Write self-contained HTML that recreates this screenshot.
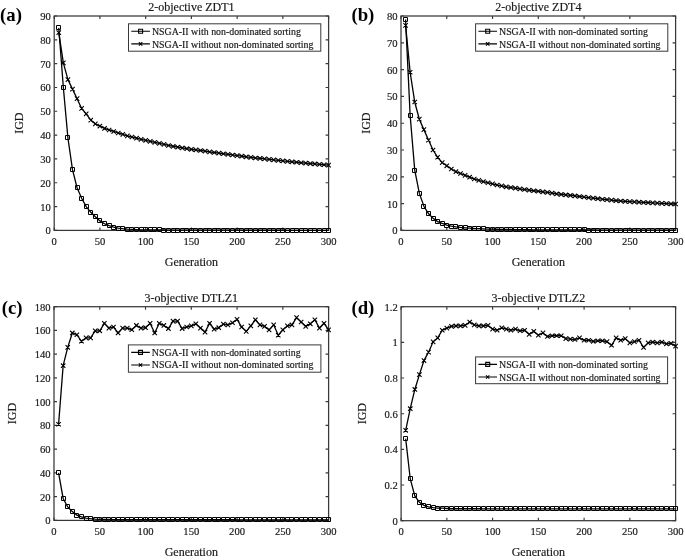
<!DOCTYPE html>
<html><head><meta charset="utf-8"><style>
html,body{margin:0;padding:0;background:#fff;}
svg{display:block;filter:grayscale(1);}
text{font-family:"Liberation Serif",serif;fill:#1a1a1a;stroke:#1a1a1a;stroke-width:0.18px;}
.tk{font-size:10.6px;}
.al{font-size:12px;}
.lg{font-size:9.9px;}
.pl{font-size:18.8px;font-weight:bold;fill:#000;stroke:none;}
</style></head><body>
<svg width="685" height="560" viewBox="0 0 685 560">
<rect width="685" height="560" fill="#fff"/>
<g><rect x="54.2" y="16" width="274.4" height="214.4" fill="none" stroke="#383838" stroke-width="1.25"/><path d="M54.2 230.4v-3.0M54.2 16v3.0M99.93 230.4v-3.0M99.93 16v3.0M145.67 230.4v-3.0M145.67 16v3.0M191.4 230.4v-3.0M191.4 16v3.0M237.13 230.4v-3.0M237.13 16v3.0M282.87 230.4v-3.0M282.87 16v3.0M328.6 230.4v-3.0M328.6 16v3.0M54.2 230.4h3.0M328.6 230.4h-3.0M54.2 206.58h3.0M328.6 206.58h-3.0M54.2 182.76h3.0M328.6 182.76h-3.0M54.2 158.93h3.0M328.6 158.93h-3.0M54.2 135.11h3.0M328.6 135.11h-3.0M54.2 111.29h3.0M328.6 111.29h-3.0M54.2 87.47h3.0M328.6 87.47h-3.0M54.2 63.64h3.0M328.6 63.64h-3.0M54.2 39.82h3.0M328.6 39.82h-3.0M54.2 16h3.0M328.6 16h-3.0" stroke="#383838" stroke-width="1.15" fill="none"/><text x="54.2" y="244.9" class="tk" text-anchor="middle">0</text><text x="99.93" y="244.9" class="tk" text-anchor="middle">50</text><text x="145.67" y="244.9" class="tk" text-anchor="middle">100</text><text x="191.4" y="244.9" class="tk" text-anchor="middle">150</text><text x="237.13" y="244.9" class="tk" text-anchor="middle">200</text><text x="282.87" y="244.9" class="tk" text-anchor="middle">250</text><text x="328.6" y="244.9" class="tk" text-anchor="middle">300</text><text x="50.8" y="234.4" class="tk" text-anchor="end">0</text><text x="50.8" y="210.58" class="tk" text-anchor="end">10</text><text x="50.8" y="186.76" class="tk" text-anchor="end">20</text><text x="50.8" y="162.93" class="tk" text-anchor="end">30</text><text x="50.8" y="139.11" class="tk" text-anchor="end">40</text><text x="50.8" y="115.29" class="tk" text-anchor="end">50</text><text x="50.8" y="91.47" class="tk" text-anchor="end">60</text><text x="50.8" y="67.64" class="tk" text-anchor="end">70</text><text x="50.8" y="43.82" class="tk" text-anchor="end">80</text><text x="50.8" y="20" class="tk" text-anchor="end">90</text><text x="191.4" y="266" class="al" text-anchor="middle">Generation</text><text transform="translate(22.7,123.2) rotate(-90)" class="al" text-anchor="middle">IGD</text><text x="191.4" y="11.3" class="al" text-anchor="middle">2-objective ZDT1</text><text x="0.1" y="20.8" class="pl">(a)</text><path d="M58.77 32.68L63.35 62.93L67.92 79.61L72.49 89.13L77.07 98.66L81.64 108.43L86.21 113.91L90.79 120.1L95.36 123.91L99.93 126.06L104.51 128.44L109.08 129.97L113.65 131.48L118.23 132.97L122.8 134.42L127.37 135.83L131.95 137.02L136.52 138.21L141.09 139.4L145.67 140.38L150.24 141.36L154.81 142.34L159.39 143.36L163.96 144.42L168.53 145.47L173.11 146.46L177.68 147.2L182.25 147.95L186.83 148.69L191.4 149.29L195.97 149.88L200.55 150.49L205.12 151.16L209.69 151.83L214.27 152.5L218.84 153.12L223.41 153.74L227.99 154.36L232.56 154.98L237.13 155.6L241.71 156.19L246.28 156.79L250.85 157.38L255.43 157.98L260 158.46L264.57 158.93L269.15 159.41L273.72 159.89L278.29 160.36L282.87 160.84L287.44 161.32L292.01 161.79L296.59 162.27L301.16 162.74L305.73 163.14L310.31 163.54L314.88 163.94L319.45 164.33L324.03 164.73L328.6 165.13" stroke="#000" stroke-width="1.3" fill="none"/><path d="M58.77 27.91L63.35 87.47L67.92 137.97L72.49 169.65L77.07 187.76L81.64 198.24L86.21 206.58L90.79 212.3L95.36 216.82L99.93 220.87L104.51 223.73L109.08 225.64L113.65 227.06L118.23 228.02L122.8 228.61L127.37 229.09L131.95 229.4L136.52 229.64L141.09 229.8L145.67 229.92L150.24 229.95L154.81 229.97L159.39 230L163.96 230.02L168.53 230.04L173.11 230.07L177.68 230.09L182.25 230.11L186.83 230.14L191.4 230.16L195.97 230.17L200.55 230.17L205.12 230.18L209.69 230.18L214.27 230.19L218.84 230.2L223.41 230.2L227.99 230.21L232.56 230.21L237.13 230.22L241.71 230.22L246.28 230.23L250.85 230.23L255.43 230.24L260 230.25L264.57 230.25L269.15 230.26L273.72 230.26L278.29 230.27L282.87 230.27L287.44 230.28L292.01 230.28L296.59 230.29L301.16 230.3L305.73 230.3L310.31 230.31L314.88 230.31L319.45 230.32L324.03 230.32L328.6 230.33" stroke="#000" stroke-width="1.3" fill="none"/><path d="M56.5 25.5h4v4h-4zM61.5 85.5h4v4h-4zM65.5 135.5h4v4h-4zM70.5 167.5h4v4h-4zM75.5 185.5h4v4h-4zM79.5 196.5h4v4h-4zM84.5 204.5h4v4h-4zM88.5 210.5h4v4h-4zM93.5 214.5h4v4h-4zM97.5 218.5h4v4h-4zM102.5 221.5h4v4h-4zM107.5 223.5h4v4h-4zM111.5 225.5h4v4h-4zM116.5 226.5h4v4h-4zM120.5 226.5h4v4h-4zM125.5 227.5h4v4h-4zM129.5 227.5h4v4h-4zM134.5 227.5h4v4h-4zM139.5 227.5h4v4h-4zM143.5 227.5h4v4h-4zM148.5 227.5h4v4h-4zM152.5 227.5h4v4h-4zM157.5 227.5h4v4h-4zM161.5 228.5h4v4h-4zM166.5 228.5h4v4h-4zM171.5 228.5h4v4h-4zM175.5 228.5h4v4h-4zM180.5 228.5h4v4h-4zM184.5 228.5h4v4h-4zM189.5 228.5h4v4h-4zM193.5 228.5h4v4h-4zM198.5 228.5h4v4h-4zM203.5 228.5h4v4h-4zM207.5 228.5h4v4h-4zM212.5 228.5h4v4h-4zM216.5 228.5h4v4h-4zM221.5 228.5h4v4h-4zM225.5 228.5h4v4h-4zM230.5 228.5h4v4h-4zM235.5 228.5h4v4h-4zM239.5 228.5h4v4h-4zM244.5 228.5h4v4h-4zM248.5 228.5h4v4h-4zM253.5 228.5h4v4h-4zM258.5 228.5h4v4h-4zM262.5 228.5h4v4h-4zM267.5 228.5h4v4h-4zM271.5 228.5h4v4h-4zM276.5 228.5h4v4h-4zM280.5 228.5h4v4h-4zM285.5 228.5h4v4h-4zM290.5 228.5h4v4h-4zM294.5 228.5h4v4h-4zM299.5 228.5h4v4h-4zM303.5 228.5h4v4h-4zM308.5 228.5h4v4h-4zM312.5 228.5h4v4h-4zM317.5 228.5h4v4h-4zM322.5 228.5h4v4h-4zM326.5 228.5h4v4h-4z" stroke="#000" stroke-width="1" fill="none"/><path d="M56.57 30.48l4.4 4.4M56.57 34.88l4.4 -4.4M61.15 60.73l4.4 4.4M61.15 65.13l4.4 -4.4M65.72 77.41l4.4 4.4M65.72 81.81l4.4 -4.4M70.29 86.93l4.4 4.4M70.29 91.33l4.4 -4.4M74.87 96.46l4.4 4.4M74.87 100.86l4.4 -4.4M79.44 106.23l4.4 4.4M79.44 110.63l4.4 -4.4M84.01 111.71l4.4 4.4M84.01 116.11l4.4 -4.4M88.59 117.9l4.4 4.4M88.59 122.3l4.4 -4.4M93.16 121.71l4.4 4.4M93.16 126.11l4.4 -4.4M97.73 123.86l4.4 4.4M97.73 128.26l4.4 -4.4M102.31 126.24l4.4 4.4M102.31 130.64l4.4 -4.4M106.88 127.77l4.4 4.4M106.88 132.17l4.4 -4.4M111.45 129.28l4.4 4.4M111.45 133.68l4.4 -4.4M116.03 130.77l4.4 4.4M116.03 135.17l4.4 -4.4M120.6 132.22l4.4 4.4M120.6 136.62l4.4 -4.4M125.17 133.63l4.4 4.4M125.17 138.03l4.4 -4.4M129.75 134.82l4.4 4.4M129.75 139.22l4.4 -4.4M134.32 136.01l4.4 4.4M134.32 140.41l4.4 -4.4M138.89 137.2l4.4 4.4M138.89 141.6l4.4 -4.4M143.47 138.18l4.4 4.4M143.47 142.58l4.4 -4.4M148.04 139.16l4.4 4.4M148.04 143.56l4.4 -4.4M152.61 140.14l4.4 4.4M152.61 144.54l4.4 -4.4M157.19 141.16l4.4 4.4M157.19 145.56l4.4 -4.4M161.76 142.22l4.4 4.4M161.76 146.62l4.4 -4.4M166.33 143.27l4.4 4.4M166.33 147.67l4.4 -4.4M170.91 144.26l4.4 4.4M170.91 148.66l4.4 -4.4M175.48 145l4.4 4.4M175.48 149.4l4.4 -4.4M180.05 145.75l4.4 4.4M180.05 150.15l4.4 -4.4M184.63 146.49l4.4 4.4M184.63 150.89l4.4 -4.4M189.2 147.09l4.4 4.4M189.2 151.49l4.4 -4.4M193.77 147.68l4.4 4.4M193.77 152.08l4.4 -4.4M198.35 148.29l4.4 4.4M198.35 152.69l4.4 -4.4M202.92 148.96l4.4 4.4M202.92 153.36l4.4 -4.4M207.49 149.63l4.4 4.4M207.49 154.03l4.4 -4.4M212.07 150.3l4.4 4.4M212.07 154.7l4.4 -4.4M216.64 150.92l4.4 4.4M216.64 155.32l4.4 -4.4M221.21 151.54l4.4 4.4M221.21 155.94l4.4 -4.4M225.79 152.16l4.4 4.4M225.79 156.56l4.4 -4.4M230.36 152.78l4.4 4.4M230.36 157.18l4.4 -4.4M234.93 153.4l4.4 4.4M234.93 157.8l4.4 -4.4M239.51 153.99l4.4 4.4M239.51 158.39l4.4 -4.4M244.08 154.59l4.4 4.4M244.08 158.99l4.4 -4.4M248.65 155.18l4.4 4.4M248.65 159.58l4.4 -4.4M253.23 155.78l4.4 4.4M253.23 160.18l4.4 -4.4M257.8 156.26l4.4 4.4M257.8 160.66l4.4 -4.4M262.37 156.73l4.4 4.4M262.37 161.13l4.4 -4.4M266.95 157.21l4.4 4.4M266.95 161.61l4.4 -4.4M271.52 157.69l4.4 4.4M271.52 162.09l4.4 -4.4M276.09 158.16l4.4 4.4M276.09 162.56l4.4 -4.4M280.67 158.64l4.4 4.4M280.67 163.04l4.4 -4.4M285.24 159.12l4.4 4.4M285.24 163.52l4.4 -4.4M289.81 159.59l4.4 4.4M289.81 163.99l4.4 -4.4M294.39 160.07l4.4 4.4M294.39 164.47l4.4 -4.4M298.96 160.54l4.4 4.4M298.96 164.94l4.4 -4.4M303.53 160.94l4.4 4.4M303.53 165.34l4.4 -4.4M308.11 161.34l4.4 4.4M308.11 165.74l4.4 -4.4M312.68 161.74l4.4 4.4M312.68 166.14l4.4 -4.4M317.25 162.13l4.4 4.4M317.25 166.53l4.4 -4.4M321.83 162.53l4.4 4.4M321.83 166.93l4.4 -4.4M326.4 162.93l4.4 4.4M326.4 167.33l4.4 -4.4" stroke="#000" stroke-width="1.1" fill="none"/><rect x="128.5" y="23.8" width="192.3" height="27.4" fill="#fff" stroke="#383838" stroke-width="1"/><path d="M131.3 31.3H149.9M131.3 43.9H149.9" stroke="#000" stroke-width="1.1"/><path d="M138.6 29.3h4v4h-4z" stroke="#000" stroke-width="1.1" fill="none"/><path d="M138.9 42.2l3.4 3.4M138.9 45.6l3.4 -3.4" stroke="#000" stroke-width="1.1" fill="none"/><text x="151.9" y="35" class="lg">NSGA-II with non-dominated sorting</text><text x="151.9" y="48" class="lg">NSGA-II without non-dominated sorting</text></g><g><rect x="401" y="16" width="274.6" height="214.4" fill="none" stroke="#383838" stroke-width="1.25"/><path d="M401 230.4v-3.0M401 16v3.0M446.77 230.4v-3.0M446.77 16v3.0M492.53 230.4v-3.0M492.53 16v3.0M538.3 230.4v-3.0M538.3 16v3.0M584.07 230.4v-3.0M584.07 16v3.0M629.83 230.4v-3.0M629.83 16v3.0M675.6 230.4v-3.0M675.6 16v3.0M401 230.4h3.0M675.6 230.4h-3.0M401 203.6h3.0M675.6 203.6h-3.0M401 176.8h3.0M675.6 176.8h-3.0M401 150h3.0M675.6 150h-3.0M401 123.2h3.0M675.6 123.2h-3.0M401 96.4h3.0M675.6 96.4h-3.0M401 69.6h3.0M675.6 69.6h-3.0M401 42.8h3.0M675.6 42.8h-3.0M401 16h3.0M675.6 16h-3.0" stroke="#383838" stroke-width="1.15" fill="none"/><text x="401" y="244.9" class="tk" text-anchor="middle">0</text><text x="446.77" y="244.9" class="tk" text-anchor="middle">50</text><text x="492.53" y="244.9" class="tk" text-anchor="middle">100</text><text x="538.3" y="244.9" class="tk" text-anchor="middle">150</text><text x="584.07" y="244.9" class="tk" text-anchor="middle">200</text><text x="629.83" y="244.9" class="tk" text-anchor="middle">250</text><text x="675.6" y="244.9" class="tk" text-anchor="middle">300</text><text x="397.6" y="234.4" class="tk" text-anchor="end">0</text><text x="397.6" y="207.6" class="tk" text-anchor="end">10</text><text x="397.6" y="180.8" class="tk" text-anchor="end">20</text><text x="397.6" y="154" class="tk" text-anchor="end">30</text><text x="397.6" y="127.2" class="tk" text-anchor="end">40</text><text x="397.6" y="100.4" class="tk" text-anchor="end">50</text><text x="397.6" y="73.6" class="tk" text-anchor="end">60</text><text x="397.6" y="46.8" class="tk" text-anchor="end">70</text><text x="397.6" y="20" class="tk" text-anchor="end">80</text><text x="538.3" y="266" class="al" text-anchor="middle">Generation</text><text transform="translate(369.5,123.2) rotate(-90)" class="al" text-anchor="middle">IGD</text><text x="538.3" y="11.3" class="al" text-anchor="middle">2-objective ZDT4</text><text x="351.4" y="20.8" class="pl">(b)</text><path d="M405.58 25.38L410.15 72.28L414.73 102.03L419.31 119.18L423.88 129.63L428.46 140.08L433.04 150L437.61 157.24L442.19 162.6L446.77 165.81L451.34 169.03L455.92 171.71L460.5 173.49L465.07 175.35L469.65 177.19L474.23 179.02L478.8 180.43L483.38 181.57L487.96 182.73L492.53 183.9L497.11 185.02L501.69 185.91L506.26 186.81L510.84 187.52L515.42 188.19L519.99 188.86L524.57 189.53L529.15 190.2L533.72 190.74L538.3 191.27L542.88 191.81L547.45 192.34L552.03 193.15L556.61 193.95L561.18 194.45L565.76 194.96L570.34 195.46L574.91 195.96L579.49 196.48L584.07 197.03L588.64 197.59L593.22 198.15L597.8 198.71L602.37 199.22L606.95 199.67L611.53 200.12L616.1 200.56L620.68 201.01L625.26 201.36L629.83 201.63L634.41 201.91L638.99 202.19L643.56 202.47L648.14 202.7L652.72 202.92L657.29 203.13L661.87 203.35L666.45 203.57L671.02 203.79L675.6 204" stroke="#000" stroke-width="1.3" fill="none"/><path d="M405.58 19.48L410.15 115.43L414.73 170.1L419.31 193.15L423.88 206.28L428.46 213.52L433.04 218.34L437.61 221.56L442.19 223.43L446.77 225.04L451.34 226.11L455.92 226.92L460.5 227.45L465.07 227.85L469.65 228.2L474.23 228.52L478.8 228.72L483.38 228.93L487.96 229.06L492.53 229.19L497.11 229.26L501.69 229.33L506.26 229.4L510.84 229.46L515.42 229.53L519.99 229.6L524.57 229.66L529.15 229.73L533.72 229.8L538.3 229.86L542.88 229.88L547.45 229.89L552.03 229.9L556.61 229.92L561.18 229.93L565.76 229.94L570.34 229.96L574.91 229.97L579.49 229.98L584.07 230L588.64 230.01L593.22 230.02L597.8 230.04L602.37 230.05L606.95 230.06L611.53 230.08L616.1 230.09L620.68 230.11L625.26 230.12L629.83 230.13L634.41 230.15L638.99 230.16L643.56 230.17L648.14 230.19L652.72 230.2L657.29 230.21L661.87 230.23L666.45 230.24L671.02 230.25L675.6 230.27" stroke="#000" stroke-width="1.3" fill="none"/><path d="M403.5 17.5h4v4h-4zM408.5 113.5h4v4h-4zM412.5 168.5h4v4h-4zM417.5 191.5h4v4h-4zM421.5 204.5h4v4h-4zM426.5 211.5h4v4h-4zM431.5 216.5h4v4h-4zM435.5 219.5h4v4h-4zM440.5 221.5h4v4h-4zM444.5 223.5h4v4h-4zM449.5 224.5h4v4h-4zM453.5 224.5h4v4h-4zM458.5 225.5h4v4h-4zM463.5 225.5h4v4h-4zM467.5 226.5h4v4h-4zM472.5 226.5h4v4h-4zM476.5 226.5h4v4h-4zM481.5 226.5h4v4h-4zM485.5 227.5h4v4h-4zM490.5 227.5h4v4h-4zM495.5 227.5h4v4h-4zM499.5 227.5h4v4h-4zM504.5 227.5h4v4h-4zM508.5 227.5h4v4h-4zM513.5 227.5h4v4h-4zM517.5 227.5h4v4h-4zM522.5 227.5h4v4h-4zM527.5 227.5h4v4h-4zM531.5 227.5h4v4h-4zM536.5 227.5h4v4h-4zM540.5 227.5h4v4h-4zM545.5 227.5h4v4h-4zM550.5 227.5h4v4h-4zM554.5 227.5h4v4h-4zM559.5 227.5h4v4h-4zM563.5 227.5h4v4h-4zM568.5 227.5h4v4h-4zM572.5 227.5h4v4h-4zM577.5 227.5h4v4h-4zM582.5 227.5h4v4h-4zM586.5 228.5h4v4h-4zM591.5 228.5h4v4h-4zM595.5 228.5h4v4h-4zM600.5 228.5h4v4h-4zM604.5 228.5h4v4h-4zM609.5 228.5h4v4h-4zM614.5 228.5h4v4h-4zM618.5 228.5h4v4h-4zM623.5 228.5h4v4h-4zM627.5 228.5h4v4h-4zM632.5 228.5h4v4h-4zM636.5 228.5h4v4h-4zM641.5 228.5h4v4h-4zM646.5 228.5h4v4h-4zM650.5 228.5h4v4h-4zM655.5 228.5h4v4h-4zM659.5 228.5h4v4h-4zM664.5 228.5h4v4h-4zM669.5 228.5h4v4h-4zM673.5 228.5h4v4h-4z" stroke="#000" stroke-width="1" fill="none"/><path d="M403.38 23.18l4.4 4.4M403.38 27.58l4.4 -4.4M407.95 70.08l4.4 4.4M407.95 74.48l4.4 -4.4M412.53 99.83l4.4 4.4M412.53 104.23l4.4 -4.4M417.11 116.98l4.4 4.4M417.11 121.38l4.4 -4.4M421.68 127.43l4.4 4.4M421.68 131.83l4.4 -4.4M426.26 137.88l4.4 4.4M426.26 142.28l4.4 -4.4M430.84 147.8l4.4 4.4M430.84 152.2l4.4 -4.4M435.41 155.04l4.4 4.4M435.41 159.44l4.4 -4.4M439.99 160.4l4.4 4.4M439.99 164.8l4.4 -4.4M444.57 163.61l4.4 4.4M444.57 168.01l4.4 -4.4M449.14 166.83l4.4 4.4M449.14 171.23l4.4 -4.4M453.72 169.51l4.4 4.4M453.72 173.91l4.4 -4.4M458.3 171.29l4.4 4.4M458.3 175.69l4.4 -4.4M462.87 173.15l4.4 4.4M462.87 177.55l4.4 -4.4M467.45 174.99l4.4 4.4M467.45 179.39l4.4 -4.4M472.03 176.82l4.4 4.4M472.03 181.22l4.4 -4.4M476.6 178.23l4.4 4.4M476.6 182.63l4.4 -4.4M481.18 179.37l4.4 4.4M481.18 183.77l4.4 -4.4M485.76 180.53l4.4 4.4M485.76 184.93l4.4 -4.4M490.33 181.7l4.4 4.4M490.33 186.1l4.4 -4.4M494.91 182.82l4.4 4.4M494.91 187.22l4.4 -4.4M499.49 183.71l4.4 4.4M499.49 188.11l4.4 -4.4M504.06 184.61l4.4 4.4M504.06 189.01l4.4 -4.4M508.64 185.32l4.4 4.4M508.64 189.72l4.4 -4.4M513.22 185.99l4.4 4.4M513.22 190.39l4.4 -4.4M517.79 186.66l4.4 4.4M517.79 191.06l4.4 -4.4M522.37 187.33l4.4 4.4M522.37 191.73l4.4 -4.4M526.95 188l4.4 4.4M526.95 192.4l4.4 -4.4M531.52 188.54l4.4 4.4M531.52 192.94l4.4 -4.4M536.1 189.07l4.4 4.4M536.1 193.47l4.4 -4.4M540.68 189.61l4.4 4.4M540.68 194.01l4.4 -4.4M545.25 190.14l4.4 4.4M545.25 194.54l4.4 -4.4M549.83 190.95l4.4 4.4M549.83 195.35l4.4 -4.4M554.41 191.75l4.4 4.4M554.41 196.15l4.4 -4.4M558.98 192.25l4.4 4.4M558.98 196.65l4.4 -4.4M563.56 192.76l4.4 4.4M563.56 197.16l4.4 -4.4M568.14 193.26l4.4 4.4M568.14 197.66l4.4 -4.4M572.71 193.76l4.4 4.4M572.71 198.16l4.4 -4.4M577.29 194.28l4.4 4.4M577.29 198.68l4.4 -4.4M581.87 194.83l4.4 4.4M581.87 199.23l4.4 -4.4M586.44 195.39l4.4 4.4M586.44 199.79l4.4 -4.4M591.02 195.95l4.4 4.4M591.02 200.35l4.4 -4.4M595.6 196.51l4.4 4.4M595.6 200.91l4.4 -4.4M600.17 197.02l4.4 4.4M600.17 201.42l4.4 -4.4M604.75 197.47l4.4 4.4M604.75 201.87l4.4 -4.4M609.33 197.92l4.4 4.4M609.33 202.32l4.4 -4.4M613.9 198.36l4.4 4.4M613.9 202.76l4.4 -4.4M618.48 198.81l4.4 4.4M618.48 203.21l4.4 -4.4M623.06 199.16l4.4 4.4M623.06 203.56l4.4 -4.4M627.63 199.43l4.4 4.4M627.63 203.83l4.4 -4.4M632.21 199.71l4.4 4.4M632.21 204.11l4.4 -4.4M636.79 199.99l4.4 4.4M636.79 204.39l4.4 -4.4M641.36 200.27l4.4 4.4M641.36 204.67l4.4 -4.4M645.94 200.5l4.4 4.4M645.94 204.9l4.4 -4.4M650.52 200.72l4.4 4.4M650.52 205.12l4.4 -4.4M655.09 200.93l4.4 4.4M655.09 205.33l4.4 -4.4M659.67 201.15l4.4 4.4M659.67 205.55l4.4 -4.4M664.25 201.37l4.4 4.4M664.25 205.77l4.4 -4.4M668.82 201.59l4.4 4.4M668.82 205.99l4.4 -4.4M673.4 201.8l4.4 4.4M673.4 206.2l4.4 -4.4" stroke="#000" stroke-width="1.1" fill="none"/><rect x="475.6" y="23.8" width="192.2" height="27.4" fill="#fff" stroke="#383838" stroke-width="1"/><path d="M478.4 31.3H497M478.4 43.9H497" stroke="#000" stroke-width="1.1"/><path d="M485.7 29.3h4v4h-4z" stroke="#000" stroke-width="1.1" fill="none"/><path d="M486 42.2l3.4 3.4M486 45.6l3.4 -3.4" stroke="#000" stroke-width="1.1" fill="none"/><text x="499" y="35" class="lg">NSGA-II with non-dominated sorting</text><text x="499" y="48" class="lg">NSGA-II without non-dominated sorting</text></g><g><rect x="54" y="306.7" width="274.6" height="213.7" fill="none" stroke="#383838" stroke-width="1.25"/><path d="M54 520.4v-3.0M54 306.7v3.0M99.77 520.4v-3.0M99.77 306.7v3.0M145.53 520.4v-3.0M145.53 306.7v3.0M191.3 520.4v-3.0M191.3 306.7v3.0M237.07 520.4v-3.0M237.07 306.7v3.0M282.83 520.4v-3.0M282.83 306.7v3.0M328.6 520.4v-3.0M328.6 306.7v3.0M54 520.4h3.0M328.6 520.4h-3.0M54 496.66h3.0M328.6 496.66h-3.0M54 472.91h3.0M328.6 472.91h-3.0M54 449.17h3.0M328.6 449.17h-3.0M54 425.42h3.0M328.6 425.42h-3.0M54 401.68h3.0M328.6 401.68h-3.0M54 377.93h3.0M328.6 377.93h-3.0M54 354.19h3.0M328.6 354.19h-3.0M54 330.44h3.0M328.6 330.44h-3.0M54 306.7h3.0M328.6 306.7h-3.0" stroke="#383838" stroke-width="1.15" fill="none"/><text x="54" y="534.9" class="tk" text-anchor="middle">0</text><text x="99.77" y="534.9" class="tk" text-anchor="middle">50</text><text x="145.53" y="534.9" class="tk" text-anchor="middle">100</text><text x="191.3" y="534.9" class="tk" text-anchor="middle">150</text><text x="237.07" y="534.9" class="tk" text-anchor="middle">200</text><text x="282.83" y="534.9" class="tk" text-anchor="middle">250</text><text x="328.6" y="534.9" class="tk" text-anchor="middle">300</text><text x="50.6" y="524.4" class="tk" text-anchor="end">0</text><text x="50.6" y="500.66" class="tk" text-anchor="end">20</text><text x="50.6" y="476.91" class="tk" text-anchor="end">40</text><text x="50.6" y="453.17" class="tk" text-anchor="end">60</text><text x="50.6" y="429.42" class="tk" text-anchor="end">80</text><text x="50.6" y="405.68" class="tk" text-anchor="end">100</text><text x="50.6" y="381.93" class="tk" text-anchor="end">120</text><text x="50.6" y="358.19" class="tk" text-anchor="end">140</text><text x="50.6" y="334.44" class="tk" text-anchor="end">160</text><text x="50.6" y="310.7" class="tk" text-anchor="end">180</text><text x="191.3" y="556" class="al" text-anchor="middle">Generation</text><text transform="translate(16.4,413.55) rotate(-90)" class="al" text-anchor="middle">IGD</text><text x="191.3" y="302" class="al" text-anchor="middle">3-objective DTLZ1</text><text x="1.7" y="313.7" class="pl">(c)</text><path d="M58.58 424.24L63.15 365.7L67.73 347.42L72.31 332.94L76.88 334.72L81.46 341.25L86.04 337.92L90.61 337.92L95.19 330.8L99.77 330.8L104.34 323.32L108.92 328.07L113.5 327L118.07 332.94L122.65 328.07L127.23 328.07L131.8 329.73L136.38 325.46L140.96 328.07L145.53 327.71L150.11 323.32L154.69 332.94L159.26 323.32L163.84 325.46L168.42 328.54L172.99 321.07L177.57 321.07L182.15 328.54L186.72 327L191.3 325.93L195.88 323.8L200.45 328.07L205.03 332.11L209.61 323.32L214.18 329.26L218.76 327.71L223.34 324.15L227.91 324.86L232.49 322.73L237.07 319.4L241.64 327L246.22 331.39L250.8 325.93L255.37 319.76L259.95 324.86L264.53 326.41L269.1 329.85L273.68 324.86L278.26 335.19L282.83 329.85L287.41 325.93L291.99 324.86L296.56 317.62L301.14 322.02L305.72 326.41L310.29 323.8L314.87 319.76L319.45 328.07L324.02 323.32L328.6 329.85" stroke="#000" stroke-width="1.3" fill="none"/><path d="M58.58 472.91L63.15 498.44L67.73 506.98L72.31 511.61L76.88 515.06L81.46 516.96L86.04 518.03L90.61 518.62L95.19 519.09L99.77 519.33L104.34 519.42L108.92 519.51L113.5 519.53L118.07 519.55L122.65 519.58L127.23 519.6L131.8 519.62L136.38 519.64L140.96 519.67L145.53 519.69L150.11 519.69L154.69 519.7L159.26 519.7L163.84 519.71L168.42 519.71L172.99 519.71L177.57 519.72L182.15 519.72L186.72 519.73L191.3 519.73L195.88 519.74L200.45 519.74L205.03 519.75L209.61 519.75L214.18 519.75L218.76 519.76L223.34 519.76L227.91 519.77L232.49 519.77L237.07 519.78L241.64 519.78L246.22 519.79L250.8 519.79L255.37 519.79L259.95 519.8L264.53 519.8L269.1 519.81L273.68 519.81L278.26 519.82L282.83 519.82L287.41 519.83L291.99 519.83L296.56 519.83L301.14 519.84L305.72 519.84L310.29 519.85L314.87 519.85L319.45 519.86L324.02 519.86L328.6 519.87" stroke="#000" stroke-width="1.3" fill="none"/><path d="M56.5 470.5h4v4h-4zM61.5 496.5h4v4h-4zM65.5 504.5h4v4h-4zM70.5 509.5h4v4h-4zM74.5 513.5h4v4h-4zM79.5 514.5h4v4h-4zM84.5 516.5h4v4h-4zM88.5 516.5h4v4h-4zM93.5 517.5h4v4h-4zM97.5 517.5h4v4h-4zM102.5 517.5h4v4h-4zM106.5 517.5h4v4h-4zM111.5 517.5h4v4h-4zM116.5 517.5h4v4h-4zM120.5 517.5h4v4h-4zM125.5 517.5h4v4h-4zM129.5 517.5h4v4h-4zM134.5 517.5h4v4h-4zM138.5 517.5h4v4h-4zM143.5 517.5h4v4h-4zM148.5 517.5h4v4h-4zM152.5 517.5h4v4h-4zM157.5 517.5h4v4h-4zM161.5 517.5h4v4h-4zM166.5 517.5h4v4h-4zM170.5 517.5h4v4h-4zM175.5 517.5h4v4h-4zM180.5 517.5h4v4h-4zM184.5 517.5h4v4h-4zM189.5 517.5h4v4h-4zM193.5 517.5h4v4h-4zM198.5 517.5h4v4h-4zM203.5 517.5h4v4h-4zM207.5 517.5h4v4h-4zM212.5 517.5h4v4h-4zM216.5 517.5h4v4h-4zM221.5 517.5h4v4h-4zM225.5 517.5h4v4h-4zM230.5 517.5h4v4h-4zM235.5 517.5h4v4h-4zM239.5 517.5h4v4h-4zM244.5 517.5h4v4h-4zM248.5 517.5h4v4h-4zM253.5 517.5h4v4h-4zM257.5 517.5h4v4h-4zM262.5 517.5h4v4h-4zM267.5 517.5h4v4h-4zM271.5 517.5h4v4h-4zM276.5 517.5h4v4h-4zM280.5 517.5h4v4h-4zM285.5 517.5h4v4h-4zM289.5 517.5h4v4h-4zM294.5 517.5h4v4h-4zM299.5 517.5h4v4h-4zM303.5 517.5h4v4h-4zM308.5 517.5h4v4h-4zM312.5 517.5h4v4h-4zM317.5 517.5h4v4h-4zM322.5 517.5h4v4h-4zM326.5 517.5h4v4h-4z" stroke="#000" stroke-width="1" fill="none"/><path d="M56.38 422.04l4.4 4.4M56.38 426.44l4.4 -4.4M60.95 363.5l4.4 4.4M60.95 367.9l4.4 -4.4M65.53 345.22l4.4 4.4M65.53 349.62l4.4 -4.4M70.11 330.74l4.4 4.4M70.11 335.14l4.4 -4.4M74.68 332.52l4.4 4.4M74.68 336.92l4.4 -4.4M79.26 339.05l4.4 4.4M79.26 343.45l4.4 -4.4M83.84 335.72l4.4 4.4M83.84 340.12l4.4 -4.4M88.41 335.72l4.4 4.4M88.41 340.12l4.4 -4.4M92.99 328.6l4.4 4.4M92.99 333l4.4 -4.4M97.57 328.6l4.4 4.4M97.57 333l4.4 -4.4M102.14 321.12l4.4 4.4M102.14 325.52l4.4 -4.4M106.72 325.87l4.4 4.4M106.72 330.27l4.4 -4.4M111.3 324.8l4.4 4.4M111.3 329.2l4.4 -4.4M115.87 330.74l4.4 4.4M115.87 335.14l4.4 -4.4M120.45 325.87l4.4 4.4M120.45 330.27l4.4 -4.4M125.03 325.87l4.4 4.4M125.03 330.27l4.4 -4.4M129.6 327.53l4.4 4.4M129.6 331.93l4.4 -4.4M134.18 323.26l4.4 4.4M134.18 327.66l4.4 -4.4M138.76 325.87l4.4 4.4M138.76 330.27l4.4 -4.4M143.33 325.51l4.4 4.4M143.33 329.91l4.4 -4.4M147.91 321.12l4.4 4.4M147.91 325.52l4.4 -4.4M152.49 330.74l4.4 4.4M152.49 335.14l4.4 -4.4M157.06 321.12l4.4 4.4M157.06 325.52l4.4 -4.4M161.64 323.26l4.4 4.4M161.64 327.66l4.4 -4.4M166.22 326.34l4.4 4.4M166.22 330.74l4.4 -4.4M170.79 318.87l4.4 4.4M170.79 323.27l4.4 -4.4M175.37 318.87l4.4 4.4M175.37 323.27l4.4 -4.4M179.95 326.34l4.4 4.4M179.95 330.74l4.4 -4.4M184.52 324.8l4.4 4.4M184.52 329.2l4.4 -4.4M189.1 323.73l4.4 4.4M189.1 328.13l4.4 -4.4M193.68 321.6l4.4 4.4M193.68 326l4.4 -4.4M198.25 325.87l4.4 4.4M198.25 330.27l4.4 -4.4M202.83 329.91l4.4 4.4M202.83 334.31l4.4 -4.4M207.41 321.12l4.4 4.4M207.41 325.52l4.4 -4.4M211.98 327.06l4.4 4.4M211.98 331.46l4.4 -4.4M216.56 325.51l4.4 4.4M216.56 329.91l4.4 -4.4M221.14 321.95l4.4 4.4M221.14 326.35l4.4 -4.4M225.71 322.66l4.4 4.4M225.71 327.06l4.4 -4.4M230.29 320.53l4.4 4.4M230.29 324.93l4.4 -4.4M234.87 317.2l4.4 4.4M234.87 321.6l4.4 -4.4M239.44 324.8l4.4 4.4M239.44 329.2l4.4 -4.4M244.02 329.19l4.4 4.4M244.02 333.59l4.4 -4.4M248.6 323.73l4.4 4.4M248.6 328.13l4.4 -4.4M253.17 317.56l4.4 4.4M253.17 321.96l4.4 -4.4M257.75 322.66l4.4 4.4M257.75 327.06l4.4 -4.4M262.33 324.21l4.4 4.4M262.33 328.61l4.4 -4.4M266.9 327.65l4.4 4.4M266.9 332.05l4.4 -4.4M271.48 322.66l4.4 4.4M271.48 327.06l4.4 -4.4M276.06 332.99l4.4 4.4M276.06 337.39l4.4 -4.4M280.63 327.65l4.4 4.4M280.63 332.05l4.4 -4.4M285.21 323.73l4.4 4.4M285.21 328.13l4.4 -4.4M289.79 322.66l4.4 4.4M289.79 327.06l4.4 -4.4M294.36 315.42l4.4 4.4M294.36 319.82l4.4 -4.4M298.94 319.82l4.4 4.4M298.94 324.22l4.4 -4.4M303.52 324.21l4.4 4.4M303.52 328.61l4.4 -4.4M308.09 321.6l4.4 4.4M308.09 326l4.4 -4.4M312.67 317.56l4.4 4.4M312.67 321.96l4.4 -4.4M317.25 325.87l4.4 4.4M317.25 330.27l4.4 -4.4M321.82 321.12l4.4 4.4M321.82 325.52l4.4 -4.4M326.4 327.65l4.4 4.4M326.4 332.05l4.4 -4.4" stroke="#000" stroke-width="1.1" fill="none"/><rect x="128.4" y="344.9" width="192.5" height="27.3" fill="#fff" stroke="#383838" stroke-width="1"/><path d="M131.2 352.4H149.8M131.2 365H149.8" stroke="#000" stroke-width="1.1"/><path d="M138.5 350.4h4v4h-4z" stroke="#000" stroke-width="1.1" fill="none"/><path d="M138.8 363.3l3.4 3.4M138.8 366.7l3.4 -3.4" stroke="#000" stroke-width="1.1" fill="none"/><text x="151.8" y="356" class="lg">NSGA-II with non-dominated sorting</text><text x="151.8" y="368" class="lg">NSGA-II without non-dominated sorting</text></g><g><rect x="401.1" y="306.7" width="274.5" height="214" fill="none" stroke="#383838" stroke-width="1.25"/><path d="M401.1 520.7v-3.0M401.1 306.7v3.0M446.85 520.7v-3.0M446.85 306.7v3.0M492.6 520.7v-3.0M492.6 306.7v3.0M538.35 520.7v-3.0M538.35 306.7v3.0M584.1 520.7v-3.0M584.1 306.7v3.0M629.85 520.7v-3.0M629.85 306.7v3.0M675.6 520.7v-3.0M675.6 306.7v3.0M401.1 520.7h3.0M675.6 520.7h-3.0M401.1 485.03h3.0M675.6 485.03h-3.0M401.1 449.37h3.0M675.6 449.37h-3.0M401.1 413.7h3.0M675.6 413.7h-3.0M401.1 378.03h3.0M675.6 378.03h-3.0M401.1 342.37h3.0M675.6 342.37h-3.0M401.1 306.7h3.0M675.6 306.7h-3.0" stroke="#383838" stroke-width="1.15" fill="none"/><text x="401.1" y="535.2" class="tk" text-anchor="middle">0</text><text x="446.85" y="535.2" class="tk" text-anchor="middle">50</text><text x="492.6" y="535.2" class="tk" text-anchor="middle">100</text><text x="538.35" y="535.2" class="tk" text-anchor="middle">150</text><text x="584.1" y="535.2" class="tk" text-anchor="middle">200</text><text x="629.85" y="535.2" class="tk" text-anchor="middle">250</text><text x="675.6" y="535.2" class="tk" text-anchor="middle">300</text><text x="397.7" y="524.7" class="tk" text-anchor="end">0</text><text x="397.7" y="489.03" class="tk" text-anchor="end">0.2</text><text x="397.7" y="453.37" class="tk" text-anchor="end">0.4</text><text x="397.7" y="417.7" class="tk" text-anchor="end">0.6</text><text x="397.7" y="382.03" class="tk" text-anchor="end">0.8</text><text x="397.7" y="346.37" class="tk" text-anchor="end">1</text><text x="397.7" y="310.7" class="tk" text-anchor="end">1.2</text><text x="538.35" y="556.3" class="al" text-anchor="middle">Generation</text><text transform="translate(365.8,413.7) rotate(-90)" class="al" text-anchor="middle">IGD</text><text x="538.35" y="302" class="al" text-anchor="middle">3-objective DTLZ2</text><text x="351.4" y="313.7" class="pl">(d)</text><path d="M405.68 430.29L410.25 408.71L414.83 389.45L419.4 374.65L423.98 360.56L428.55 352.18L433.12 341.83L437.7 337.91L442.28 330.24L446.85 328.1L451.43 326.32L456 325.96L460.58 325.96L465.15 325.43L469.73 322.04L474.3 324.89L478.88 325.96L483.45 325.96L488.03 325.43L492.6 329.17L497.18 330.24L501.75 327.74L506.33 329.17L510.9 330.24L515.48 329.17L520.05 330.78L524.62 330.24L529.2 334.34L533.78 331.31L538.35 335.23L542.93 332.92L547.5 336.48L552.08 335.77L556.65 335.77L561.23 335.77L565.8 338.62L570.38 339.16L574.95 339.51L579.53 337.91L584.1 340.23L588.68 340.23L593.25 341.3L597.83 340.76L602.4 340.76L606.98 341.65L611.55 345.22L616.12 337.91L620.7 340.23L625.27 338.62L629.85 342.9L634.42 341.65L639 340.23L643.58 347.36L648.15 342.9L652.73 342.19L657.3 342.9L661.88 342.19L666.45 343.79L671.03 343.44L675.6 346.11" stroke="#000" stroke-width="1.3" fill="none"/><path d="M405.68 438.67L410.25 478.97L414.83 495.91L419.4 502.33L423.98 505.36L428.55 506.79L433.12 507.68L437.7 508.04L442.28 508.22L446.85 508.48L451.43 508.75L456 508.76L460.58 508.76L465.15 508.76L469.73 508.77L474.3 508.77L478.88 508.77L483.45 508.78L488.03 508.78L492.6 508.78L497.18 508.79L501.75 508.79L506.33 508.8L510.9 508.8L515.48 508.8L520.05 508.81L524.62 508.81L529.2 508.81L533.78 508.82L538.35 508.82L542.93 508.82L547.5 508.83L552.08 508.83L556.65 508.84L561.23 508.84L565.8 508.84L570.38 508.85L574.95 508.85L579.53 508.85L584.1 508.86L588.68 508.86L593.25 508.86L597.83 508.87L602.4 508.87L606.98 508.88L611.55 508.88L616.12 508.88L620.7 508.89L625.27 508.89L629.85 508.89L634.42 508.9L639 508.9L643.58 508.9L648.15 508.91L652.73 508.91L657.3 508.92L661.88 508.92L666.45 508.92L671.03 508.93L675.6 508.93" stroke="#000" stroke-width="1.3" fill="none"/><path d="M403.5 436.5h4v4h-4zM408.5 476.5h4v4h-4zM412.5 493.5h4v4h-4zM417.5 500.5h4v4h-4zM421.5 503.5h4v4h-4zM426.5 504.5h4v4h-4zM431.5 505.5h4v4h-4zM435.5 506.5h4v4h-4zM440.5 506.5h4v4h-4zM444.5 506.5h4v4h-4zM449.5 506.5h4v4h-4zM454.5 506.5h4v4h-4zM458.5 506.5h4v4h-4zM463.5 506.5h4v4h-4zM467.5 506.5h4v4h-4zM472.5 506.5h4v4h-4zM476.5 506.5h4v4h-4zM481.5 506.5h4v4h-4zM486.5 506.5h4v4h-4zM490.5 506.5h4v4h-4zM495.5 506.5h4v4h-4zM499.5 506.5h4v4h-4zM504.5 506.5h4v4h-4zM508.5 506.5h4v4h-4zM513.5 506.5h4v4h-4zM518.5 506.5h4v4h-4zM522.5 506.5h4v4h-4zM527.5 506.5h4v4h-4zM531.5 506.5h4v4h-4zM536.5 506.5h4v4h-4zM540.5 506.5h4v4h-4zM545.5 506.5h4v4h-4zM550.5 506.5h4v4h-4zM554.5 506.5h4v4h-4zM559.5 506.5h4v4h-4zM563.5 506.5h4v4h-4zM568.5 506.5h4v4h-4zM572.5 506.5h4v4h-4zM577.5 506.5h4v4h-4zM582.5 506.5h4v4h-4zM586.5 506.5h4v4h-4zM591.5 506.5h4v4h-4zM595.5 506.5h4v4h-4zM600.5 506.5h4v4h-4zM604.5 506.5h4v4h-4zM609.5 506.5h4v4h-4zM614.5 506.5h4v4h-4zM618.5 506.5h4v4h-4zM623.5 506.5h4v4h-4zM627.5 506.5h4v4h-4zM632.5 506.5h4v4h-4zM637.5 506.5h4v4h-4zM641.5 506.5h4v4h-4zM646.5 506.5h4v4h-4zM650.5 506.5h4v4h-4zM655.5 506.5h4v4h-4zM659.5 506.5h4v4h-4zM664.5 506.5h4v4h-4zM669.5 506.5h4v4h-4zM673.5 506.5h4v4h-4z" stroke="#000" stroke-width="1" fill="none"/><path d="M403.48 428.09l4.4 4.4M403.48 432.49l4.4 -4.4M408.05 406.51l4.4 4.4M408.05 410.91l4.4 -4.4M412.63 387.25l4.4 4.4M412.63 391.65l4.4 -4.4M417.2 372.45l4.4 4.4M417.2 376.85l4.4 -4.4M421.78 358.36l4.4 4.4M421.78 362.76l4.4 -4.4M426.35 349.98l4.4 4.4M426.35 354.38l4.4 -4.4M430.93 339.63l4.4 4.4M430.93 344.03l4.4 -4.4M435.5 335.71l4.4 4.4M435.5 340.11l4.4 -4.4M440.08 328.04l4.4 4.4M440.08 332.44l4.4 -4.4M444.65 325.9l4.4 4.4M444.65 330.3l4.4 -4.4M449.23 324.12l4.4 4.4M449.23 328.52l4.4 -4.4M453.8 323.76l4.4 4.4M453.8 328.16l4.4 -4.4M458.38 323.76l4.4 4.4M458.38 328.16l4.4 -4.4M462.95 323.23l4.4 4.4M462.95 327.63l4.4 -4.4M467.53 319.84l4.4 4.4M467.53 324.24l4.4 -4.4M472.1 322.69l4.4 4.4M472.1 327.09l4.4 -4.4M476.68 323.76l4.4 4.4M476.68 328.16l4.4 -4.4M481.25 323.76l4.4 4.4M481.25 328.16l4.4 -4.4M485.83 323.23l4.4 4.4M485.83 327.63l4.4 -4.4M490.4 326.97l4.4 4.4M490.4 331.37l4.4 -4.4M494.98 328.04l4.4 4.4M494.98 332.44l4.4 -4.4M499.55 325.54l4.4 4.4M499.55 329.94l4.4 -4.4M504.13 326.97l4.4 4.4M504.13 331.37l4.4 -4.4M508.7 328.04l4.4 4.4M508.7 332.44l4.4 -4.4M513.27 326.97l4.4 4.4M513.27 331.37l4.4 -4.4M517.85 328.58l4.4 4.4M517.85 332.98l4.4 -4.4M522.42 328.04l4.4 4.4M522.42 332.44l4.4 -4.4M527 332.14l4.4 4.4M527 336.54l4.4 -4.4M531.58 329.11l4.4 4.4M531.58 333.51l4.4 -4.4M536.15 333.03l4.4 4.4M536.15 337.43l4.4 -4.4M540.73 330.72l4.4 4.4M540.73 335.12l4.4 -4.4M545.3 334.28l4.4 4.4M545.3 338.68l4.4 -4.4M549.88 333.57l4.4 4.4M549.88 337.97l4.4 -4.4M554.45 333.57l4.4 4.4M554.45 337.97l4.4 -4.4M559.02 333.57l4.4 4.4M559.02 337.97l4.4 -4.4M563.6 336.42l4.4 4.4M563.6 340.82l4.4 -4.4M568.17 336.96l4.4 4.4M568.17 341.36l4.4 -4.4M572.75 337.31l4.4 4.4M572.75 341.71l4.4 -4.4M577.33 335.71l4.4 4.4M577.33 340.11l4.4 -4.4M581.9 338.03l4.4 4.4M581.9 342.43l4.4 -4.4M586.48 338.03l4.4 4.4M586.48 342.43l4.4 -4.4M591.05 339.1l4.4 4.4M591.05 343.5l4.4 -4.4M595.62 338.56l4.4 4.4M595.62 342.96l4.4 -4.4M600.2 338.56l4.4 4.4M600.2 342.96l4.4 -4.4M604.77 339.45l4.4 4.4M604.77 343.85l4.4 -4.4M609.35 343.02l4.4 4.4M609.35 347.42l4.4 -4.4M613.92 335.71l4.4 4.4M613.92 340.11l4.4 -4.4M618.5 338.03l4.4 4.4M618.5 342.43l4.4 -4.4M623.07 336.42l4.4 4.4M623.07 340.82l4.4 -4.4M627.65 340.7l4.4 4.4M627.65 345.1l4.4 -4.4M632.22 339.45l4.4 4.4M632.22 343.85l4.4 -4.4M636.8 338.03l4.4 4.4M636.8 342.43l4.4 -4.4M641.38 345.16l4.4 4.4M641.38 349.56l4.4 -4.4M645.95 340.7l4.4 4.4M645.95 345.1l4.4 -4.4M650.52 339.99l4.4 4.4M650.52 344.39l4.4 -4.4M655.1 340.7l4.4 4.4M655.1 345.1l4.4 -4.4M659.67 339.99l4.4 4.4M659.67 344.39l4.4 -4.4M664.25 341.59l4.4 4.4M664.25 345.99l4.4 -4.4M668.83 341.24l4.4 4.4M668.83 345.64l4.4 -4.4M673.4 343.91l4.4 4.4M673.4 348.31l4.4 -4.4" stroke="#000" stroke-width="1.1" fill="none"/><rect x="475.6" y="356.9" width="192" height="26.8" fill="#fff" stroke="#383838" stroke-width="1"/><path d="M478.4 364.4H497M478.4 377H497" stroke="#000" stroke-width="1.1"/><path d="M485.7 362.4h4v4h-4z" stroke="#000" stroke-width="1.1" fill="none"/><path d="M486 375.3l3.4 3.4M486 378.7l3.4 -3.4" stroke="#000" stroke-width="1.1" fill="none"/><text x="499" y="368" class="lg">NSGA-II with non-dominated sorting</text><text x="499" y="381" class="lg">NSGA-II without non-dominated sorting</text></g>
</svg>
</body></html>
